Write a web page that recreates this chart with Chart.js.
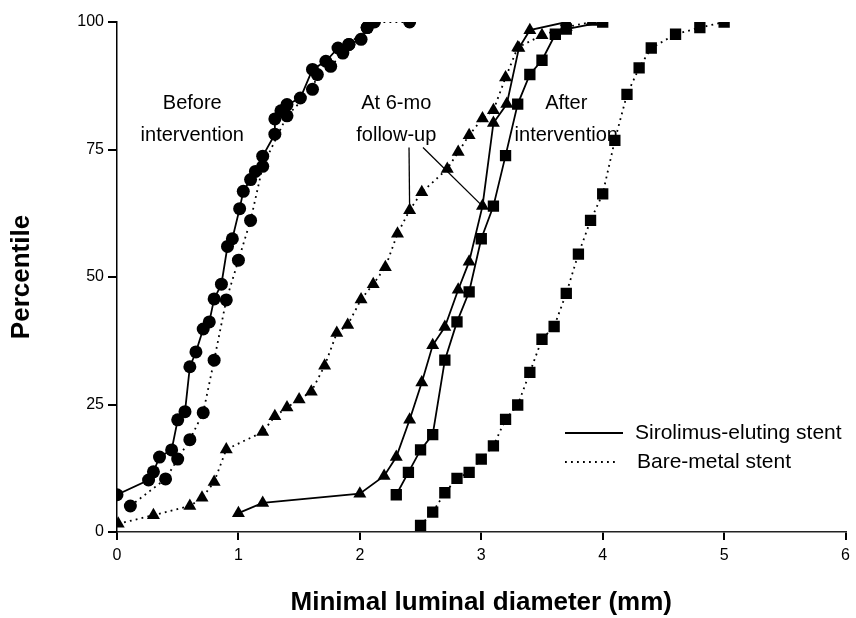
<!DOCTYPE html>
<html>
<head>
<meta charset="utf-8">
<script src="https://cdn.jsdelivr.net/npm/chart.js@4/dist/chart.umd.min.js"></script>
<style>
  html, body { margin: 0; padding: 0; background: #fff; }
  #c { display: block; }
</style>
</head>
<body>
<canvas id="c" width="856" height="618"></canvas>
<script>
// ---- Data ----
const xTicks = [0, 1, 2, 3, 4, 5, 6];
const yTicks = [0, 25, 50, 75, 100];

// Before intervention, sirolimus-eluting stent (solid, circles)
const sesBeforeX = [0, 0.26, 0.30, 0.35, 0.45, 0.50, 0.56, 0.60, 0.65, 0.71, 0.76, 0.80, 0.86, 0.91, 0.95, 1.01, 1.04, 1.10, 1.14, 1.20, 1.30, 1.30, 1.35, 1.40, 1.51, 1.61, 1.72, 1.82, 1.91, 2.01, 2.06, 2.10];
const sesBeforeY = [7.3, 10.2, 11.8, 14.7, 16.1, 22.0, 23.6, 32.4, 35.3, 39.8, 41.2, 45.7, 48.6, 56.0, 57.5, 63.4, 66.8, 69.1, 70.7, 73.7, 78.0, 81.0, 82.6, 83.8, 85.1, 90.7, 92.3, 94.9, 95.6, 96.6, 98.9, 100];

// Before intervention, bare-metal stent (dotted, circles)
const bmsBeforeX = [0.11, 0.40, 0.50, 0.60, 0.71, 0.80, 0.90, 1.00, 1.10, 1.20, 1.40, 1.61, 1.65, 1.76, 1.86, 1.91, 2.06, 2.12, 2.41];
const bmsBeforeY = [5.1, 10.4, 14.3, 18.1, 23.4, 33.7, 45.5, 53.3, 61.1, 71.7, 81.6, 86.8, 89.7, 91.3, 93.9, 95.6, 98.9, 100, 100];

// At 6-mo follow-up, sirolimus-eluting stent (solid, triangles)
const sesFollowX = [1.00, 1.20, 2.00, 2.20, 2.30, 2.41, 2.51, 2.60, 2.70, 2.81, 2.90, 3.01, 3.10, 3.21, 3.31, 3.40, 3.70];
const sesFollowY = [3.7, 5.7, 7.5, 11.0, 14.7, 22.0, 29.3, 36.6, 40.2, 47.5, 53.0, 63.9, 80.2, 83.9, 94.9, 98.4, 100];

// At 6-mo follow-up, bare-metal stent (dotted, triangles)
const bmsFollowX = [0.01, 0.30, 0.60, 0.70, 0.80, 0.90, 1.20, 1.30, 1.40, 1.50, 1.60, 1.71, 1.81, 1.90, 2.01, 2.11, 2.21, 2.31, 2.41, 2.51, 2.72, 2.81, 2.90, 3.01, 3.10, 3.20, 3.30, 3.50, 3.70, 3.91];
const bmsFollowY = [1.6, 3.3, 5.1, 6.7, 9.8, 16.2, 19.6, 22.7, 24.4, 26.0, 27.5, 32.6, 39.0, 40.6, 45.6, 48.6, 51.9, 58.5, 63.1, 66.6, 71.2, 74.5, 77.8, 81.1, 82.7, 89.1, 95.0, 97.4, 99.0, 100];

// After intervention, sirolimus-eluting stent (solid, squares)
const sesAfterX = [2.30, 2.40, 2.50, 2.60, 2.70, 2.80, 2.90, 3.00, 3.10, 3.20, 3.30, 3.40, 3.50, 3.61, 3.70, 4.00];
const sesAfterY = [7.3, 11.7, 16.1, 19.1, 33.7, 41.2, 47.1, 57.5, 63.9, 73.8, 83.9, 89.7, 92.5, 97.6, 98.6, 100];

// After intervention, bare-metal stent (dotted, squares)
const bmsAfterX = [2.50, 2.60, 2.70, 2.80, 2.90, 3.00, 3.10, 3.20, 3.30, 3.40, 3.50, 3.60, 3.70, 3.80, 3.90, 4.00, 4.10, 4.20, 4.30, 4.40, 4.60, 4.80, 5.00];
const bmsAfterY = [1.3, 3.9, 7.7, 10.5, 11.7, 14.3, 16.9, 22.1, 24.9, 31.3, 37.8, 40.3, 46.8, 54.5, 61.1, 66.3, 76.8, 85.8, 91.0, 94.9, 97.6, 98.9, 100];

const legendLabels = ["Sirolimus-eluting stent", "Bare-metal stent"];
const annotationTexts = [
  { lines: ["Before", "intervention"], x: 0.62 },
  { lines: ["At 6-mo", "follow-up"], x: 2.30 },
  { lines: ["After", "intervention"], x: 3.70 }
];
const annotationLineY = [84, 77.8];
// pointer lines from "follow-up" label to one point of each follow-up series
const pointers = [
  { from: [2.405, 75.4], to: [bmsFollowX[18], bmsFollowY[18]] },
  { from: [2.52, 75.4], to: [sesFollowX[11], sesFollowY[11]] }
];

// ---- Build chart ----
const FONT = "'Liberation Sans', Arial, Helvetica, sans-serif";
const zip = (xs, ys) => xs.map((x, i) => ({ x: x, y: ys[i] }));
const SOLID = [];
const DOTTED = [1.8, 4.2];

function ds(label, xs, ys, style, dash) {
  let r = style === 'circle' ? 6.5 : (style === 'triangle' ? 7.5 : 8);
  return {
    label: label,
    data: zip(xs, ys),
    showLine: true,
    borderColor: '#000',
    backgroundColor: '#000',
    borderWidth: 1.8,
    borderDash: dash,
    pointStyle: style,
    pointRadius: r,
    pointBackgroundColor: '#000',
    pointBorderColor: '#000',
    pointBorderWidth: 0,
    tension: 0,
    fill: false
  };
}

const overlayPlugin = {
  id: 'overlay',
  afterDatasetsDraw(chart) {
    const ctx = chart.ctx;
    const xs = chart.scales.x, ys = chart.scales.y;
    ctx.save();
    ctx.fillStyle = '#000';
    ctx.strokeStyle = '#000';
    // annotation texts
    ctx.font = '20px ' + FONT;
    ctx.textAlign = 'center';
    ctx.textBaseline = 'middle';
    annotationTexts.forEach(a => {
      a.lines.forEach((t, i) => {
        ctx.fillText(t, xs.getPixelForValue(a.x), ys.getPixelForValue(annotationLineY[i]));
      });
    });
    // pointer lines
    ctx.lineWidth = 1.3;
    ctx.setLineDash([]);
    pointers.forEach(p => {
      ctx.beginPath();
      ctx.moveTo(xs.getPixelForValue(p.from[0]), ys.getPixelForValue(p.from[1]));
      ctx.lineTo(xs.getPixelForValue(p.to[0]), ys.getPixelForValue(p.to[1]));
      ctx.stroke();
    });
    // legend
    const ca = chart.chartArea;
    const lx0 = ca.left + 448, lx1 = ca.left + 506;
    const ly0 = ca.top + 411, ly1 = ca.top + 440;
    ctx.lineWidth = 1.8;
    ctx.beginPath(); ctx.moveTo(lx0, ly0); ctx.lineTo(lx1, ly0); ctx.stroke();
    ctx.setLineDash(DOTTED);
    ctx.beginPath(); ctx.moveTo(lx0, ly1); ctx.lineTo(lx1 - 5, ly1); ctx.stroke();
    ctx.setLineDash([]);
    ctx.font = '21px ' + FONT;
    ctx.textAlign = 'left';
    ctx.fillText(legendLabels[0], ca.left + 518, ly0);
    ctx.fillText(legendLabels[1], ca.left + 520, ly1);
    ctx.restore();
  }
};

new Chart(document.getElementById('c'), {
  type: 'line',
  data: {
    datasets: [
      ds('SES before', sesBeforeX, sesBeforeY, 'circle', SOLID),
      ds('BMS before', bmsBeforeX, bmsBeforeY, 'circle', DOTTED),
      ds('SES follow-up', sesFollowX, sesFollowY, 'triangle', SOLID),
      ds('BMS follow-up', bmsFollowX, bmsFollowY, 'triangle', DOTTED),
      ds('SES after', sesAfterX, sesAfterY, 'rect', SOLID),
      ds('BMS after', bmsAfterX, bmsAfterY, 'rect', DOTTED)
    ]
  },
  options: {
    responsive: false,
    animation: false,
    devicePixelRatio: 1,
    layout: { padding: { top: 22, right: 8, left: 0, bottom: 0 } },
    plugins: { legend: { display: false }, tooltip: { enabled: false } },
    scales: {
      x: {
        type: 'linear',
        min: 0, max: 6,
        afterBuildTicks: (s) => { s.ticks = xTicks.map(v => ({ value: v })); },
        afterFit: (s) => { s.height = 86; },
        grid: { drawOnChartArea: false, drawTicks: true, tickLength: 8, color: '#000', lineWidth: 2 },
        border: { display: true, color: '#222', width: 1.5 },
        ticks: { color: '#000', font: { family: FONT, size: 16 }, padding: 6, maxRotation: 0 },
        title: { display: true, text: 'Minimal luminal diameter (mm)', color: '#000',
                 font: { family: FONT, size: 26, weight: 'bold' }, padding: { top: 3, bottom: 0 } }
      },
      y: {
        type: 'linear',
        min: 0, max: 100,
        afterBuildTicks: (s) => { s.ticks = yTicks.map(v => ({ value: v })); },
        afterFit: (s) => { s.width = 117; },
        grid: { drawOnChartArea: false, drawTicks: true, tickLength: 9, color: '#000', lineWidth: 2 },
        border: { display: true, color: '#000', width: 1.5 },
        ticks: { color: '#000', font: { family: FONT, size: 16 }, padding: 4 },
        title: { display: true, text: 'Percentile', color: '#000',
                 font: { family: FONT, size: 26, weight: 'bold' }, padding: { top: 6, bottom: 0 } }
      }
    }
  },
  plugins: [overlayPlugin]
});
</script>
</body>
</html>
